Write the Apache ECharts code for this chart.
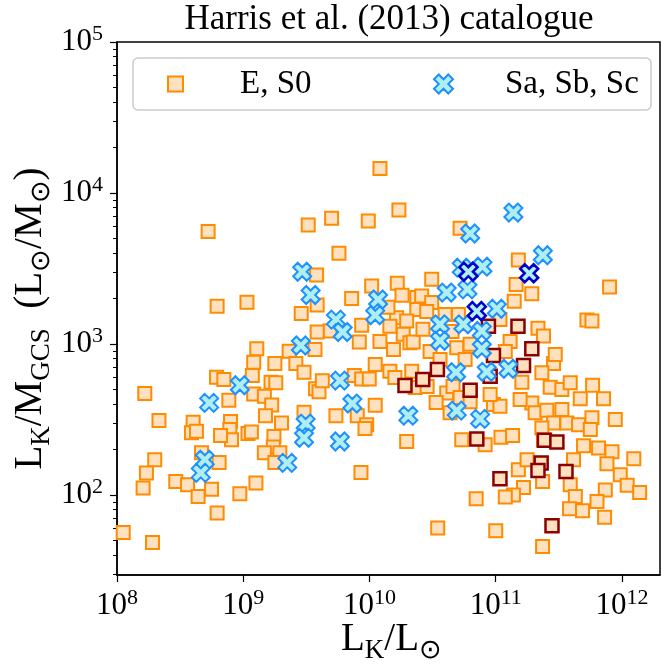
<!DOCTYPE html>
<html><head><meta charset="utf-8">
<script src="https://cdn.jsdelivr.net/npm/echarts@6/dist/echarts.min.js"></script>
<style>html,body{margin:0;padding:0;background:#fff}#c{width:662px;height:664px}</style>
</head><body><div id="c"></div>
<script>
// ---- Data ----
// E, S0 galaxies: K-band luminosity (L_sun) and L_K/M_GCS
const esLK = [5.27e8,3.27e9,5.01e9,9.78e9,5.73e9,3.81e9,1.04e10,7.22e9,6.21e8,1.07e9,3.85e9,2.88e9,8.67e9,4.86e9,3.85e9,8.30e9,3.70e9,1.28e9,2.31e9,
1.21e10,1.71e10,5.22e10,1.51e11,7.97e11,1.66e10,3.11e10,1.45e11,1.93e11,1.40e11,2.37e10,2.59e10,3.11e10,2.37e10,2.84e10,1.64e10,1.97e10,5.06e10,5.28e11,5.78e11,2.16e11,2.39e11,1.85e10,2.09e10,2.22e10,1.21e10,1.55e10,4.91e10,1.30e11,
2.87e11,2.32e11,1.11e10,1.45e10,2.16e10,1.61e11,2.70e11,3.34e11,3.89e11,5.85e11,4.67e11,7.14e11,1.93e11,2.05e11,2.54e11,3.34e11,5.78e11,2.87e11,3.66e11,4.53e11,2.32e11,1.11e10,4.35e10,4.09e10,9.59e10,1.08e11,5.38e10,8.24e10,1.10e11,1.36e11,1.97e10,2.39e11,4.96e11,6.52e11,8.33e11,1.24e12,4.13e11,7.60e11,1.51e11,1.77e11,9.69e11,1.10e12,1.38e12,7.38e11,6.34e11,3.89e11,4.27e11,2.35e11,1.66e11,1.38e11,1.19e11,7.00e10,3.84e11,4.87e11,7.28e11,3.47e10,1.00e11,2.35e11,
1.59e10,2.30e10,2.86e10,4.59e10,3.37e10,5.22e10,6.27e10,9.03e10,
1.21e9,1.78e9,2.61e9,3.03e9,6.14e8,7.02e8,1.18e9,1.66e9,1.81e9,1.66e8,7.69e8,1.21e9,1.47e9,1.68e9,3.74e9,3.98e9,4.23e9,7.57e9,8.67e9,9.96e9,5.42e9,8.00e9,9.50e9,9.21e9,2.15e8,4.01e8,3.89e8,4.26e8,7.93e8,7.83e8,8.08e8,6.61e8,1.09e9,1.16e9,1.50e9,2.01e9,1.75e9,1.73e9,3.03e9,1.47e9,1.95e9,1.78e9,4.67e8,6.44e8,1.99e8,1.71e8,1.61e8,2.92e8,3.62e8,4.39e8,5.61e8,9.40e8,1.26e9,6.21e8,8.56e9,1.12e8,1.91e8,
1.40e10,1.81e10,3.97e10,4.51e10,2.65e10,1.45e10,6.27e10,3.02e10,1.08e11,1.19e11,2.96e11,1.56e11,5.61e11,8.85e11,3.62e10,5.72e10];
const esRatio = [5560,6140,6800,6530,3990,2860,2420,2000,1780,1890,1810,1590,1330,1220,1200,1030,919,929,896,
14500,7720,5840,3600,2380,2520,2680,2480,2150,1920,2030,2080,1880,1690,1640,1490,1420,1570,1440,1420,1270,1130,1160,1020,1030,1040,919,944,1040,
742,644,731,660,660,558,517,499,553,533,433,433,407,350,364,368,324,300,300,292,278,393,350,474,397,387,232,215,241,248,226,232,212,205,193,174,171,161,147,171,136,116,104,108,90.6,117,97.7,123,112,100,96.9,94.4,81.0,78.5,71.3,60.3,57.9,45.5,
600,514,522,522,409,442,415,462,
757,742,742,650,602,581,618,558,553,469,424,467,451,395,505,482,570,618,587,587,335,335,292,275,311,303,258,264,307,271,232,248,255,261,335,300,244,208,353,190,190,164,190,164,171,140,111,123,117,97.7,109,102,120,75.9,141,56.4,48.4,
1750,2100,1570,1210,1250,1310,997,891,1450,891,852,428,271,316,789,789];

// E, S0 highlighted (dark red edge)
const esHlLK = [1.50e11,8.75e10,1.93e11,3.45e10,2.64e10,1.91e10,1.66e11,9.03e10,6.27e10,9.59e10,7.08e10,2.43e11,3.05e11,2.29e11,2.16e11,3.60e11,1.08e11,2.79e11];
const esHlRatio = [1310,1310,929,677,581,530,720,611,494,838,235,230,224,163,145,143,128,62.5];

// Sa, Sb, Sc galaxies
const spLK = [2.93e9,3.42e9,5.42e9,6.13e9,2.86e9,6.27e10,1.38e11,2.36e11,7.85e10,5.38e10,4.09e10,5.97e10,1.17e10,1.11e10,1.02e11,3.62e10,5.54e10,7.76e10,3.62e10,7.76e10,4.85e10,8.49e10,1.26e11,4.91e10,7.52e10,2.03e10,9.40e8,5.37e8,7.31e9,3.12e9,3.03e9,5.83e9,2.23e9,4.96e8,4.61e8,5.83e9];
const spRatio = [3010,2110,1450,1200,977,5390,7420,3870,3250,3200,2190,2300,1970,1550,1710,1350,1350,1220,1050,929,650,654,685,362,319,335,533,407,403,297,239,226,163,171,140,572];

// Sa, Sb, Sc highlighted (dark blue edge)
const spHlLK = [6.07e10,1.84e11,7.08e10];
const spHlRatio = [3010,2940,1650];

// Axes
const xRange = [1e8, 2e12];
const yRange = [29.5, 1e5];
const xTickVals = [1e8, 1e9, 1e10, 1e11, 1e12];
const yTickVals = [1e2, 1e3, 1e4, 1e5];

// ---- Build ----
const lg = Math.log10;
const pts = (xs, ys) => xs.map((x, i) => [lg(x), lg(ys[i])]);
const yMinor = [];
for (let e = 1; e <= 4; e++) for (let k = 2; k <= 9; k++) { const v = k * Math.pow(10, e); if (v >= yRange[0] && v <= yRange[1]) yMinor.push(lg(v)); }

const FONT = 'Liberation Serif';
const XPATH = 'path://M2,-4L0,-2L-2,-4L-4,-2L-2,0L-4,2L-2,4L0,2L2,4L4,2L2,0L4,-2Z';
const peach = '#FFE1C0', orange = '#FF8C00', turq = '#AFEEEE', dblue = '#1E90FF';

const tickRich = {
  b: {fontFamily: FONT, fontSize: 31, lineHeight: 38, color: '#000'},
  s: {fontFamily: FONT, fontSize: 22, lineHeight: 38, verticalAlign: 'top', color: '#000'}
};
const nameRich = {
  sub: {fontFamily: FONT, fontSize: 27, lineHeight: 48, verticalAlign: 'bottom', color: '#000'}
};
const powLabel = v => '{b|10}{s|' + Math.round(v) + '}';

const chart = echarts.init(document.getElementById('c'), null, {renderer: 'canvas'});
chart.setOption({
  animation: false,
  backgroundColor: '#fff',
  grid: {left: 117, right: 2, top: 42, bottom: 89, containLabel: false, outerBoundsMode: 'none',
         show: true, borderColor: '#000', borderWidth: 1.5, backgroundColor: 'transparent'},
  xAxis: [{
    type: 'value', min: lg(xRange[0]), max: lg(xRange[1]),
    axisLine: {show: true, lineStyle: {color: '#000', width: 1.5}},
    axisTick: {show: true, inside: false, length: 7, lineStyle: {color: '#000', width: 1.2}, customValues: xTickVals.map(lg)},
    axisLabel: {show: true, margin: 12, formatter: powLabel, rich: tickRich, customValues: xTickVals.map(lg)},
    splitLine: {show: false},
    name: 'L{sub|K}/L{sub|⊙}', nameLocation: 'middle', nameGap: 41, nameMoveOverlap: false,
    nameTextStyle: {fontFamily: FONT, fontSize: 39, lineHeight: 48, color: '#000', rich: nameRich, padding: [0, 0, 0, 6]}
  }],
  yAxis: [{
    type: 'value', min: lg(yRange[0]), max: lg(yRange[1]),
    axisLine: {show: true, lineStyle: {color: '#000', width: 1.5}},
    axisTick: {show: true, inside: false, length: 7, lineStyle: {color: '#000', width: 1.2}, customValues: yTickVals.map(lg)},
    axisLabel: {show: true, margin: 14, formatter: powLabel, rich: tickRich, customValues: yTickVals.map(lg)},
    splitLine: {show: false},
    name: 'L{sub|K}/M{sub|GCS}  (L{sub|⊙}/M{sub|⊙})', nameLocation: 'middle', nameRotate: 90, nameGap: 62, nameMoveOverlap: false,
    nameTextStyle: {fontFamily: FONT, fontSize: 39, lineHeight: 48, color: '#000', rich: nameRich, padding: [0, 20, 0, 0]}
  }, {
    type: 'value', min: lg(yRange[0]), max: lg(yRange[1]), position: 'left', offset: 0,
    axisLine: {show: false},
    axisTick: {show: true, inside: false, length: 4, lineStyle: {color: '#000', width: 1}, customValues: yMinor},
    axisLabel: {show: false},
    splitLine: {show: false}
  }],
  legend: [{
    data: [{name: 'E, S0', icon: 'rect', itemStyle: {color: peach, borderColor: orange, borderWidth: 2}}],
    left: 167, top: 64, padding: 0, itemWidth: 15, itemHeight: 15, selectedMode: false, z: 5,
    textStyle: {fontFamily: FONT, fontSize: 33, lineHeight: 40, color: '#000', padding: [0, 0, 0, 52]}
  }, {
    data: [{name: 'Sa, Sb, Sc', icon: XPATH, itemStyle: {color: turq, borderColor: dblue, borderWidth: 2}}],
    left: 433, top: 64, padding: 0, itemWidth: 19, itemHeight: 19, selectedMode: false, z: 5,
    textStyle: {fontFamily: FONT, fontSize: 33, lineHeight: 40, color: '#000', padding: [0, 0, 0, 47]}
  }],
  graphic: [
    {type: 'text', x: 389, y: 20, z: 5, style: {text: 'Harris et al. (2013) catalogue', fontFamily: FONT, fontSize: 35, fill: '#000', align: 'center', verticalAlign: 'middle'}},
    {type: 'rect', z: 4, shape: {x: 133, y: 58, width: 518, height: 52, r: 5}, style: {fill: 'rgba(255,255,255,0.8)', stroke: '#cccccc', lineWidth: 1.5}}
  ],
  series: [
    {name: 'E, S0', type: 'scatter', symbol: 'rect', symbolSize: 13, z: 2,
     itemStyle: {color: peach, borderColor: orange, borderWidth: 2, opacity: 1},
     data: pts(esLK, esRatio)},
    {name: 'E, S0 (highlight)', type: 'scatter', symbol: 'rect', symbolSize: 13, z: 3,
     itemStyle: {color: peach, borderColor: '#8B0000', borderWidth: 2.5, opacity: 1},
     data: pts(esHlLK, esHlRatio)},
    {name: 'Sa, Sb, Sc', type: 'scatter', symbol: XPATH, symbolSize: 18, z: 4,
     itemStyle: {color: turq, borderColor: dblue, borderWidth: 2, opacity: 1},
     data: pts(spLK, spRatio)},
    {name: 'Sa, Sb, Sc (highlight)', type: 'scatter', symbol: XPATH, symbolSize: 18, z: 5,
     itemStyle: {color: turq, borderColor: '#0000CD', borderWidth: 2.5, opacity: 1},
     data: pts(spHlLK, spHlRatio)}
  ]
});
</script></body></html>
